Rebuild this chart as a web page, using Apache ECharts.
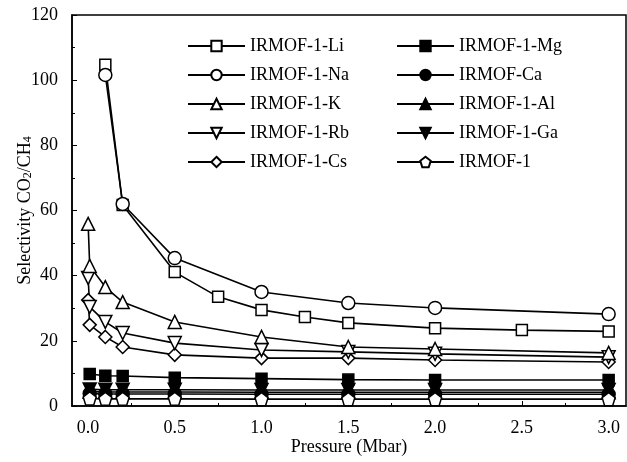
<!DOCTYPE html>
<html>
<head>
<meta charset="utf-8">
<script src="https://cdn.jsdelivr.net/npm/echarts@6/dist/echarts.min.js"></script>
<style>
  html, body { margin: 0; padding: 0; background: #fff; }
  #chart { width: 627px; height: 462px; }
</style>
</head>
<body>
<div id="chart"></div>
<script>
// pressures (Mbar)
const pLi = [0.1, 0.2, 0.5, 0.75, 1.0, 1.25, 1.5, 2.0, 2.5, 3.0]
const pNa = [0.1, 0.2, 0.5, 1.0, 1.5, 2.0, 3.0]
const pAlkali = [0.001, 0.01, 0.1, 0.2, 0.5, 1.0, 1.5, 2.0, 3.0]
const pMetal = [0.01, 0.1, 0.2, 0.5, 1.0, 1.5, 2.0, 3.0]

// selectivity CO2/CH4
const li = [104.7, 61.7, 41.1, 33.5, 29.5, 27.3, 25.5, 23.9, 23.3, 22.9]
const na = [101.6, 62.0, 45.4, 35.0, 31.6, 30.1, 28.2]
const k = [55.9, 43.0, 36.5, 31.9, 25.8, 21.2, 18.1, 17.5, 16.3]
const rb = [39.3, 30.4, 25.8, 22.4, 19.3, 17.2, 16.6, 16.0, 15.0]
const cs = [32.5, 24.9, 21.2, 18.1, 15.7, 14.7, 14.7, 14.1, 13.5]
const mg = [9.8, 9.3, 9.2, 8.7, 8.4, 8.1, 8.0, 8.0]
const ca = [3.8, 3.7, 3.7, 3.7, 3.6, 3.6, 3.6, 3.6]
const al = [4.4, 4.3, 4.3, 4.3, 4.2, 4.2, 4.2, 4.2]
const ga = [5.1, 5.0, 5.0, 5.0, 4.9, 4.9, 4.9, 4.9]
const irmof = [2.3, 2.2, 2.2, 2.2, 2.1, 2.1, 2.1, 2.1]

const xLabels = [0, 0.5, 1.0, 1.5, 2.0, 2.5, 3.0]
const xMinorTicks = [0, 0.25, 0.5, 0.75, 1.0, 1.25, 1.5, 1.75, 2.0, 2.25, 2.5, 2.75, 3.0]

const font = '"Liberation Serif", "Times New Roman", serif'
const pentagon = 'path://M0,-1L0.951,-0.309L0.588,0.809L-0.588,0.809L-0.951,-0.309Z'

const zip = (xs, ys) => xs.map((x, i) => [x, ys[i]])

const makeSeries = (name, xs, ys, symbol, filled, rotate) => ({
  name,
  type: 'line',
  data: zip(xs, ys),
  symbol,
  symbolSize: symbol === 'rect' ? 11 : 13,
  symbolRotate: rotate || 0,
  lineStyle: { color: '#000', width: 1.6 },
  itemStyle: {
    color: filled ? '#000' : '#fff',
    borderColor: '#000',
    borderWidth: 1.5,
  },
  emphasis: { disabled: true },
  z: filled ? 2 : 3,
})

const chart = echarts.init(document.getElementById('chart'))

const legendBase = {
  orient: 'vertical',
  top: 32,
  itemWidth: 57,
  itemHeight: 13,
  itemGap: 11,
  selectedMode: false,
  textStyle: {
    fontFamily: font,
    fontSize: 18,
    color: '#000',
  },
}

chart.setOption({
  animation: false,
  backgroundColor: '#fff',
  grid: {
    left: 72,
    right: 1,
    top: 15,
    bottom: 56,
    outerBoundsMode: 'none',
    show: true,
    borderColor: '#000',
    borderWidth: 1.5,
  },
  legend: [
    {
      ...legendBase,
      left: 182,
      data: ['IRMOF-1-Li', 'IRMOF-1-Na', 'IRMOF-1-K', 'IRMOF-1-Rb', 'IRMOF-1-Cs'],
    },
    {
      ...legendBase,
      left: 391,
      data: ['IRMOF-1-Mg', 'IRMOF-Ca', 'IRMOF-1-Al', 'IRMOF-1-Ga', 'IRMOF-1'],
    },
  ],
  xAxis: [
    {
      type: 'value',
      min: -0.092,
      max: 3.1,
      name: 'Pressure (Mbar)',
      nameLocation: 'middle',
      nameGap: 32,
      nameMoveOverlap: false,
      nameTextStyle: { fontFamily: font, fontSize: 18, color: '#000' },
      axisLine: { onZero: false, lineStyle: { color: '#000', width: 1.5 } },
      axisTick: {
        inside: true,
        length: 5,
        customValues: xLabels,
        lineStyle: { color: '#000' },
      },
      axisLabel: {
        customValues: xLabels,
        margin: 13,
        fontFamily: font,
        fontSize: 18,
        color: '#000',
        formatter: (v) => v.toFixed(1),
      },
      splitLine: { show: false },
    },
    {
      type: 'value',
      min: -0.092,
      max: 3.1,
      position: 'bottom',
      axisLine: { show: false, onZero: false },
      axisTick: {
        inside: true,
        length: 3,
        customValues: xMinorTicks,
        lineStyle: { color: '#000' },
      },
      axisLabel: { show: false },
      splitLine: { show: false },
    },
  ],
  yAxis: {
    type: 'value',
    min: 0,
    max: 120,
    interval: 20,
    name: '{a|Selectivity CO}{s|2}{a|/CH}{s|4}',
    nameLocation: 'middle',
    nameGap: 38,
    nameRotate: 90,
    nameMoveOverlap: false,
    nameTextStyle: {
      fontFamily: font,
      color: '#000',
      rich: {
        a: { fontFamily: font, fontSize: 18, color: '#000', lineHeight: 24, verticalAlign: 'bottom' },
        s: { fontFamily: font, fontSize: 12, color: '#000', lineHeight: 12, verticalAlign: 'bottom' },
      },
    },
    axisLine: { show: true, onZero: false, lineStyle: { color: '#000', width: 1.5 } },
    axisTick: { inside: true, length: 5, lineStyle: { color: '#000' } },
    minorTick: { show: true, splitNumber: 2, length: 3, lineStyle: { color: '#000' } },
    axisLabel: { margin: 14, fontFamily: font, fontSize: 18, color: '#000' },
    splitLine: { show: false },
  },
  series: [
    makeSeries('IRMOF-1-Mg', pMetal, mg, 'rect', true),
    makeSeries('IRMOF-Ca', pMetal, ca, 'circle', true),
    makeSeries('IRMOF-1-Al', pMetal, al, 'triangle', true),
    makeSeries('IRMOF-1-Ga', pMetal, ga, 'triangle', true, 180),
    makeSeries('IRMOF-1', pMetal, irmof, pentagon, false),
    makeSeries('IRMOF-1-Cs', pAlkali, cs, 'diamond', false),
    makeSeries('IRMOF-1-Rb', pAlkali, rb, 'triangle', false, 180),
    makeSeries('IRMOF-1-K', pAlkali, k, 'triangle', false),
    makeSeries('IRMOF-1-Li', pLi, li, 'rect', false),
    makeSeries('IRMOF-1-Na', pNa, na, 'circle', false),
  ],
})
</script>
</body>
</html>
